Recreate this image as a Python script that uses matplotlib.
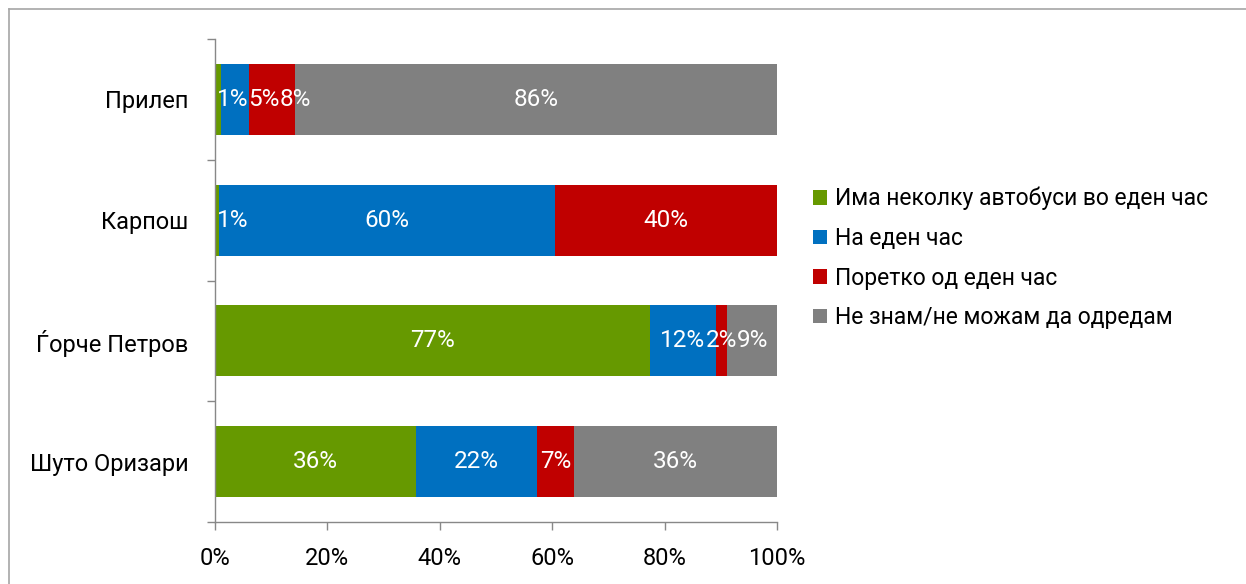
import matplotlib
matplotlib.use('Agg')
import matplotlib.pyplot as plt
from matplotlib.patches import Patch
from matplotlib.lines import Line2D
import numpy as np

plt.rcParams['font.family'] = ['Roboto', 'DejaVu Sans']

# data (percent), top to bottom
categories = ['Прилеп', 'Карпош', 'Ѓорче Петров', 'Шуто Оризари']
series_names = ['Има неколку автобуси во еден час', 'На еден час',
                'Поретко од еден час', 'Не знам/не можам да одредам']
several_per_hour = [1.0, 0.7, 77.4, 35.7]
one_per_hour = [5.0, 59.8, 11.7, 21.6]
less_often = [8.2, 39.5, 2.0, 6.6]
dont_know = [85.8, 0.0, 8.9, 36.1]
xtick_vals = [0, 20, 40, 60, 80, 100]

colors = ['#669900', '#0070C0', '#C00000', '#808080']
series = [several_per_hour, one_per_hour, less_often, dont_know]

W, H = 1246, 584
fig = plt.figure(figsize=(W / 100, H / 100), dpi=100)
ax = fig.add_axes([215 / W, 1 - 522 / H, (777 - 215) / W, (522 - 39) / H])

ypos = np.arange(len(categories))
left = np.zeros(len(categories))
labels_by_row = [[] for _ in categories]
for vals, col in zip(series, colors):
    vals = np.array(vals)
    ax.barh(ypos, vals, left=left, height=0.587, color=col, linewidth=0)
    for i, v in enumerate(vals):
        if v <= 0:
            continue
        t = ax.text(left[i] + v / 2, ypos[i], f'{v:.0f}%', ha='center', va='center',
                    color='white', fontsize=17.5)
        labels_by_row[i].append(t)
    left += vals

ax.set_xlim(0, 100)
ax.set_ylim(len(categories) - 0.5, -0.5)

ax.set_xticks(xtick_vals)
ax.set_xticklabels([f'{v}%' for v in xtick_vals])
ax.set_yticks(ypos)
ax.set_yticklabels(categories)
ax.set_yticks(np.arange(len(categories) + 1) - 0.5, minor=True)
ax.tick_params(axis='y', which='major', length=0, pad=19, labelsize=17)
ax.tick_params(axis='y', which='minor', length=6, width=1, color='#888888', direction='out')
ax.tick_params(axis='x', length=6, width=1, color='#888888', pad=12, labelsize=17)

for side in ['top', 'right']:
    ax.spines[side].set_visible(False)
for side in ['left', 'bottom']:
    ax.spines[side].set_color('#888888')
    ax.spines[side].set_linewidth(1)

# nudge overlapping data labels to the right, like Excel does
fig.canvas.draw()
renderer = fig.canvas.get_renderer()
inv = ax.transData.inverted()
for row in labels_by_row:
    limit = ax.transData.transform((0, 0))[0] + 2
    for t in row:
        bb = t.get_window_extent(renderer)
        if bb.x0 < limit:
            shift = limit - bb.x0
            x, y = t.get_position()
            px = ax.transData.transform((x, y))[0] + shift
            t.set_x(inv.transform((px, 0))[0])
            limit = bb.x1 + shift
        else:
            limit = bb.x1

handles = [Patch(facecolor=c, edgecolor='none') for c in colors]
fig.legend(handles, series_names, loc='center left',
           bbox_to_anchor=(813 / W, 1 - 258 / H), frameon=False, fontsize=16.5,
           handlelength=0.6, handleheight=0.6, handletextpad=0.35,
           labelspacing=0.72, borderpad=0, borderaxespad=0)

# outer chart frame (only top and left visible in the crop)
fig.add_artist(Line2D([9 / W, 9 / W], [0, 1 - 9 / H], transform=fig.transFigure,
                      color='#a6a6a6', linewidth=1.2))
fig.add_artist(Line2D([9 / W, 1], [1 - 9 / H, 1 - 9 / H], transform=fig.transFigure,
                      color='#a6a6a6', linewidth=1.2))

fig.savefig('out.png', dpi=100)
